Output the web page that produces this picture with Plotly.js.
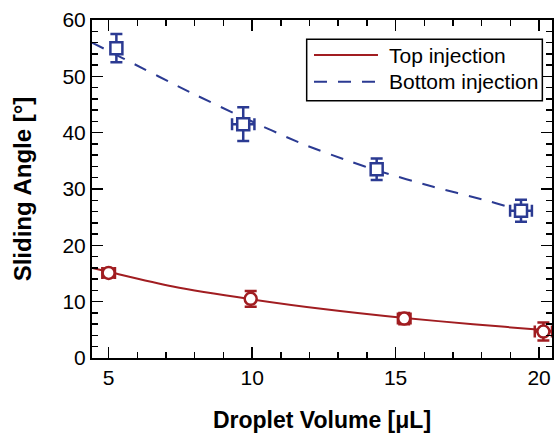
<!DOCTYPE html>
<html>
<head>
<meta charset="utf-8">
<script src="https://cdn.plot.ly/plotly-3.0.1.min.js"></script>
<style>
  html, body { margin: 0; padding: 0; background: #ffffff; }
  #chart { width: 554px; height: 433px; }
</style>
</head>
<body>
<div id="chart"></div>
<script>
// ---- Data ----
// Top injection (measured points)
const topX = [5.0, 9.95, 15.3, 20.15];
const topY = [15.1, 10.5, 7.0, 4.7];
const topErrY = [0.8, 1.4, 1.0, 1.6];
const topErrX = [0.22, 0.1, 0.22, 0.3];
// Top injection fitted curve
const topFitX = [4.42, 5.0, 7.24, 9.92, 12.48, 15.32, 17.7, 20.16, 20.45];
const topFitY = [16.0, 15.3, 12.7, 10.47, 8.7, 7.1, 6.0, 4.95, 4.8];

// Bottom injection (measured points)
const botX = [5.27, 9.69, 14.34, 19.37];
const botY = [55.0, 41.5, 33.5, 26.15];
const botErrY = [2.5, 3.0, 1.9, 1.95];
const botErrX = [0.15, 0.39, 0.15, 0.38];
// Bottom injection fitted curve
const botFitX = [4.42, 5.5, 7.83, 9.69, 11.76, 13.41, 14.34, 16.31, 18.06, 19.1, 19.35];
const botFitY = [56.0, 53.2, 47.2, 42.7, 38.0, 34.9, 33.3, 30.4, 28.1, 26.6, 26.3];

const seriesNames = ['Top injection', 'Bottom injection'];
const xTitle = 'Droplet Volume [\u03BCL]';
const yTitle = 'Sliding Angle [\u00B0]';

// ---- Styling ----
const RED = '#a11d21';
const BLUE = '#2b3a92';
const FONT = 'Liberation Sans, Arial, Helvetica, sans-serif';

const traces = [
  {
    x: topFitX, y: topFitY, mode: 'lines', type: 'scatter',
    line: { color: RED, width: 2, shape: 'spline', smoothing: 0.8 },
    showlegend: false, hoverinfo: 'skip'
  },
  {
    x: botFitX, y: botFitY, mode: 'lines', type: 'scatter',
    line: { color: BLUE, width: 2, shape: 'spline', smoothing: 0.8, dash: '13px,11px' },
    showlegend: false, hoverinfo: 'skip'
  },
  {
    x: topX, y: topY, mode: 'markers', type: 'scatter', name: seriesNames[0],
    marker: { symbol: 'circle', size: 12, color: '#ffffff', line: { color: RED, width: 2.5 } },
    error_y: { type: 'data', array: topErrY, color: RED, thickness: 2.5, width: 6 },
    error_x: { type: 'data', array: topErrX, color: RED, thickness: 2.5, width: 6 },
    showlegend: false
  },
  {
    x: botX, y: botY, mode: 'markers', type: 'scatter', name: seriesNames[1],
    marker: { symbol: 'square', size: 12, color: '#ffffff', line: { color: BLUE, width: 2.5 } },
    error_y: { type: 'data', array: botErrY, color: BLUE, thickness: 2.5, width: 6 },
    error_x: { type: 'data', array: botErrX, color: BLUE, thickness: 2.5, width: 6 },
    showlegend: false
  }
];

// custom legend (paper coordinates of the plot area)
const legBox = { x0: 0.4667, x1: 0.979, y0: 0.761, y1: 0.943 };
const legRows = [0.8964, 0.8175];
const legLineX = [0.4826, 0.6217];
const legTextX = 0.6413;

const layout = {
  width: 554, height: 433,
  margin: { l: 92, r: 2, t: 20, b: 75, pad: 0 },
  paper_bgcolor: '#ffffff', plot_bgcolor: '#ffffff',
  font: { family: FONT, size: 21, color: '#000000' },
  showlegend: false,
  xaxis: {
    range: [4.42, 20.45],
    tickvals: [5, 10, 15, 20],
    ticktext: ['5', '10', '15', '20'],
    ticks: 'inside', ticklen: 11, tickwidth: 1.5, tickcolor: '#000',
    minor: { dtick: 1, tick0: 0, ticks: 'inside', ticklen: 6, tickwidth: 1.5, tickcolor: '#000' },
    showline: true, linecolor: '#000', linewidth: 2, mirror: 'ticks',
    showgrid: false, zeroline: false,
    tickfont: { family: FONT, size: 21, color: '#000' },
    title: { text: xTitle, font: { family: FONT, size: 23, color: '#000', weight: 'bold' }, standoff: 29 }
  },
  yaxis: {
    range: [0, 60],
    tickvals: [0, 10, 20, 30, 40, 50, 60],
    ticktext: ['0', '10', '20', '30', '40', '50', '60'],
    ticks: 'inside', ticklen: 11, tickwidth: 1.5, tickcolor: '#000',
    minor: { dtick: 2, tick0: 0, ticks: 'inside', ticklen: 6, tickwidth: 1.5, tickcolor: '#000' },
    showline: true, linecolor: '#000', linewidth: 2, mirror: 'ticks',
    showgrid: false, zeroline: false,
    tickfont: { family: FONT, size: 21, color: '#000' },
    title: { text: yTitle, font: { family: FONT, size: 24, color: '#000', weight: 'bold' }, standoff: 24 }
  },
  shapes: [
    { type: 'rect', xref: 'paper', yref: 'paper', x0: legBox.x0, x1: legBox.x1, y0: legBox.y0, y1: legBox.y1,
      line: { color: '#000', width: 1.5 }, fillcolor: '#ffffff', layer: 'above' },
    { type: 'line', xref: 'paper', yref: 'paper', x0: legLineX[0], x1: legLineX[1], y0: legRows[0], y1: legRows[0],
      line: { color: RED, width: 2 }, layer: 'above' },
    { type: 'line', xref: 'paper', yref: 'paper', x0: legLineX[0], x1: legLineX[1], y0: legRows[1], y1: legRows[1],
      line: { color: BLUE, width: 2, dash: '13px,11px' }, layer: 'above' }
  ],
  annotations: [
    { xref: 'paper', yref: 'paper', x: legTextX, y: legRows[0], xanchor: 'left', yanchor: 'middle',
      text: seriesNames[0], showarrow: false, font: { family: FONT, size: 21, color: '#000' } },
    { xref: 'paper', yref: 'paper', x: legTextX, y: legRows[1], xanchor: 'left', yanchor: 'middle',
      text: seriesNames[1], showarrow: false, font: { family: FONT, size: 21, color: '#000' } }
  ]
};

Plotly.newPlot('chart', traces, layout, { displayModeBar: false, staticPlot: true });
</script>
</body>
</html>
